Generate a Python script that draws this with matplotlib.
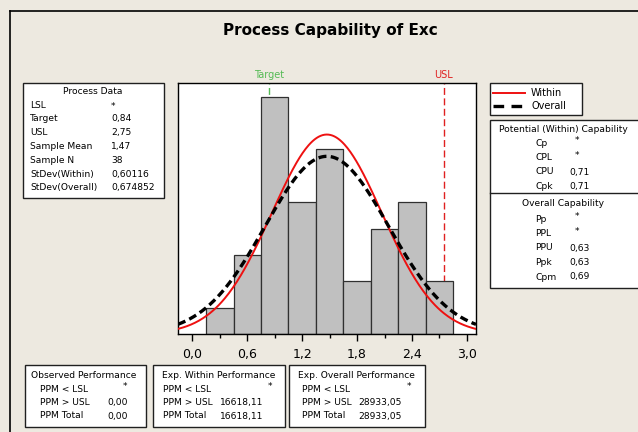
import numpy as np
import matplotlib
matplotlib.use('Agg')
import matplotlib.pyplot as plt
from matplotlib.patches import Rectangle
from matplotlib.lines import Line2D

# ---- data ----
bin_mids = [0.3, 0.6, 0.9, 1.2, 1.5, 1.8, 2.1, 2.4, 2.7]
counts = [1, 3, 9, 5, 7, 2, 4, 5, 2]
bin_width = 0.3
target, usl = 0.84, 2.75
mean, sd_within, sd_overall, n = 1.47, 0.60116, 0.674852, 38
xticks = [0.0, 0.6, 1.2, 1.8, 2.4, 3.0]
xtick_labels = ['0,0', '0,6', '1,2', '1,8', '2,4', '3,0']

proc_labels = ['LSL', 'Target', 'USL', 'Sample Mean', 'Sample N',
               'StDev(Within)', 'StDev(Overall)']
proc_values = ['*', '0,84', '2,75', '1,47', '38', '0,60116', '0,674852']
within_labels = ['Cp', 'CPL', 'CPU', 'Cpk']
within_values = ['*', '*', '0,71', '0,71']
overall_labels = ['Pp', 'PPL', 'PPU', 'Ppk', 'Cpm']
overall_values = ['*', '*', '0,63', '0,63', '0,69']
perf_titles = ['Observed Performance', 'Exp. Within Performance',
               'Exp. Overall Performance']
perf_labels = ['PPM < LSL', 'PPM > USL', 'PPM Total']
perf_values = [['*', '0,00', '0,00'],
               ['*', '16618,11', '16618,11'],
               ['*', '28933,05', '28933,05']]

W, H = 638, 432
BG = '#EDE9E0'
plt.rcParams['font.family'] = ['DejaVu Sans']
fig = plt.figure(figsize=(W / 100, H / 100), dpi=100, facecolor=BG)


def fx(x):
    return x / W


def fy(y):
    return 1 - y / H


def box(x0, y0, x1, y1):
    fig.add_artist(Rectangle((fx(x0), fy(y1)), fx(x1 - x0), (y1 - y0) / H,
                             transform=fig.transFigure, facecolor='white',
                             edgecolor='#202020', lw=1.0))


def txt(x, y, s, ha='left', **kw):
    kw.setdefault('fontsize', 6.6)
    fig.text(fx(x), fy(y), s, ha=ha, va='center', color='black', **kw)


# outer frame (left + top)
fig.add_artist(Line2D([fx(10), fx(10)], [fy(11), 0], transform=fig.transFigure,
                      color='black', lw=1.2))
fig.add_artist(Line2D([fx(10), 1], [fy(11), fy(11)], transform=fig.transFigure,
                      color='black', lw=1.2))

fig.text(fx(330), fy(31), 'Process Capability of Exc', ha='center', va='center',
         fontsize=11, fontweight='bold')

# ---- histogram ----
ax = fig.add_axes([fx(178), fy(334), fx(476 - 178), (334 - 83) / H])
ax.set_facecolor('white')
ax.bar(bin_mids, counts, width=bin_width, color='#C0C0C0', edgecolor='#303030',
       lw=0.9, zorder=2)
ax.axvline(target, color='#55BB55', lw=1, ls=(0, (5, 2.5)), zorder=1)
ax.axvline(usl, color='#E02020', lw=1, ls=(0, (5, 2.5)), zorder=1)

xlim = (-0.157, 3.10)
xs = np.linspace(xlim[0], xlim[1], 300)
scale = n * bin_width


def normal(x, s):
    return scale * np.exp(-0.5 * ((x - mean) / s) ** 2) / (s * np.sqrt(2 * np.pi))


ax.plot(xs, normal(xs, sd_within), color='#EE1111', lw=1.4, zorder=3)
ax.plot(xs, normal(xs, sd_overall), color='black', lw=2.4,
        ls=(0, (2.4, 1.3)), zorder=4)
ax.set_xlim(xlim)
ax.set_ylim(0, 9.52)
ax.set_yticks([])
ax.set_xticks(xticks)
ax.set_xticklabels(xtick_labels, fontsize=9)
ax.set_xticks(np.arange(0.3, 3.0, 0.6), minor=True)
ax.tick_params(axis='x', which='major', length=5, width=1, pad=5)
ax.tick_params(axis='x', which='minor', length=3, width=1)
for sp in ax.spines.values():
    sp.set_color('black')
    sp.set_linewidth(1)
ax.text(target, 1.01, 'Target', transform=ax.get_xaxis_transform(),
        ha='center', va='bottom', color='#55BB55', fontsize=7)
ax.text(usl, 1.01, 'USL', transform=ax.get_xaxis_transform(),
        ha='center', va='bottom', color='#E02020', fontsize=7)

# ---- process data ----
box(23, 83, 164, 198)
txt(93, 92, 'Process Data', ha='center')
for i, (l, v) in enumerate(zip(proc_labels, proc_values)):
    y = 105 + i * 13.8
    txt(30, y, l)
    txt(111, y + (2 if v == '*' else 0), v)

# ---- legend ----
box(490, 83, 582, 115)
fig.add_artist(Line2D([fx(493), fx(525)], [fy(93), fy(93)],
                      transform=fig.transFigure, color='#EE1111', lw=1.4))
fig.add_artist(Line2D([fx(493), fx(525)], [fy(106), fy(106)],
                      transform=fig.transFigure, color='black', lw=2.4,
                      ls=(0, (3.2, 2.2))))
txt(531, 93, 'Within', fontsize=7)
txt(531, 106, 'Overall', fontsize=7)

# ---- capability ----
box(490, 120, 640, 288)
fig.add_artist(Line2D([fx(490), 1], [fy(193), fy(193)],
                      transform=fig.transFigure, color='#202020', lw=1))
txt(563, 130, 'Potential (Within) Capability', ha='center')
for i, (l, v) in enumerate(zip(within_labels, within_values)):
    y = 143 + i * 14.5
    txt(535, y, l)
    if v == '*':
        txt(575, y - 2, v)
    else:
        txt(569, y, v)
txt(563, 204, 'Overall Capability', ha='center')
for i, (l, v) in enumerate(zip(overall_labels, overall_values)):
    y = 219 + i * 14.5
    txt(535, y, l)
    if v == '*':
        txt(575, y - 2, v)
    else:
        txt(569, y, v)

# ---- performance boxes ----
boxes = [(25, 146, 31, 40, 107, 123),
         (153, 285, 162, 163, 220, 268),
         (289, 425, 298, 302, 358, 407)]
for (x0, x1, tx, lx, vx, sx), title, vals in zip(boxes, perf_titles, perf_values):
    box(x0, 365, x1, 427)
    txt(tx, 375, title)
    for i, (l, v) in enumerate(zip(perf_labels, vals)):
        y = 389 + i * 13.5
        txt(lx, y, l)
        if v == '*':
            txt(sx, y - 2, v)
        else:
            txt(vx, y, v)

fig.savefig('out.png', dpi=100, facecolor=BG)
